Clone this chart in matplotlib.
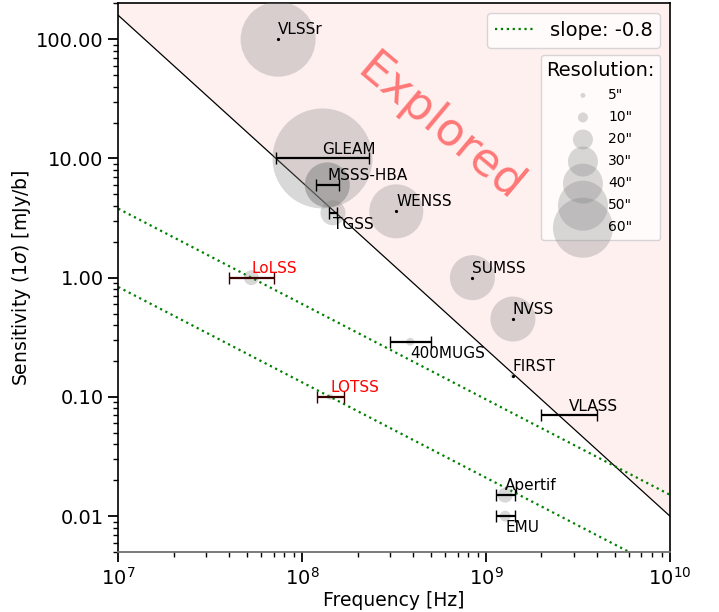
import numpy as np
import matplotlib
matplotlib.use("Agg")
import matplotlib.pyplot as plt
from matplotlib.ticker import FormatStrFormatter, NullFormatter

# ---------------- data ----------------
names = ['VLSSr', 'GLEAM', 'MSSS-HBA', 'TGSS', 'WENSS', 'SUMSS', 'NVSS', 'FIRST',
         'VLASS', '400MUGS', 'LoLSS', 'LOTSS', 'Apertif', 'EMU']
freq = [74e6, 129e6, 137e6, 147e6, 325e6, 843e6, 1.4e9, 1.4e9,
        2.83e9, 387e6, 52.9e6, 142e6, 1.27e9, 1.27e9]            # Hz
sens = [100, 10, 6.0, 3.5, 3.6, 1.0, 0.45, 0.15,
        0.07, 0.29, 1.0, 0.1, 0.015, 0.01]                        # mJy/b
resolution = [75, 100, 45, 25, 54, 45, 45, 5,
              2.5, 8, 15, 6, 15, 11]                              # arcsec
band_lo = [np.nan, 72e6, 119e6, 140e6, np.nan, np.nan, np.nan, np.nan,
           2e9, 300e6, 40e6, 120e6, 1.13e9, 1.13e9]
band_hi = [np.nan, 231e6, 158e6, 154.5e6, np.nan, np.nan, np.nan, np.nan,
           4e9, 500e6, 70e6, 168e6, 1.43e9, 1.44e9]
label_below = ['TGSS', '400MUGS', 'EMU']
highlight = ['LoLSS', 'LOTSS']

legend_res = [5, 10, 20, 30, 40, 50, 60]

explored_slope = -1.4
explored_ref = (1e10, 0.01)
line_slope = -0.8

# ---------------- figure ----------------
W, H, DPI = 7.19, 6.12, 100
fig = plt.figure(figsize=(W, H), dpi=DPI)
ax = fig.add_axes([0.1645, 0.098, 0.7673, 0.8966])
ax.set_xscale('log')
ax.set_yscale('log')
ax.set_xlim(1e7, 1e10)
ax.set_ylim(0.005, 200)

def msize(res):
    # marker diameter in pixels equals resolution in arcsec
    d_pt = res * 72.0 / DPI
    return d_pt ** 2

xx = np.logspace(7, 10, 200)
# explored region
expl = explored_ref[1] * (xx / explored_ref[0]) ** explored_slope
ax.fill_between(xx, expl, 1e4, color='red', alpha=0.06, lw=0, zorder=0)
ax.plot(xx, expl, color='black', lw=0.9, zorder=2)

# slope lines through LoLSS and LOTSS
for i, nm in enumerate(['LoLSS', 'LOTSS']):
    k = names.index(nm)
    yy = sens[k] * (xx / freq[k]) ** line_slope
    ax.plot(xx, yy, color='green', ls=':', lw=1.6, zorder=2,
            label='slope: -0.8' if i == 0 else None)

# survey circles
alphas = [0.5 if n == 'MSSS-HBA' else 0.3 for n in names]
for i, n in enumerate(names):
    ax.scatter(freq[i], sens[i], s=msize(resolution[i]), color='gray',
               alpha=alphas[i], edgecolors='none', zorder=3)

# error bars / centres / labels
for i, n in enumerate(names):
    col = '#3a0000' if n in highlight else 'black'
    if not np.isnan(band_lo[i]):
        xerr = [[freq[i] - band_lo[i]], [band_hi[i] - freq[i]]]
        ax.errorbar(freq[i], sens[i], xerr=xerr, fmt='none', ecolor=col,
                    elinewidth=1.6, capsize=4.5, capthick=1.0, zorder=4)
    else:
        ax.plot(freq[i], sens[i], 'o', color='black', ms=1.3, zorder=4)
    tcol = 'red' if n in highlight else 'black'
    if n in label_below:
        ax.annotate(n, (freq[i], sens[i]), xytext=(0, -3),
                    textcoords='offset points', ha='left', va='top',
                    fontsize=11, color=tcol, zorder=5)
    else:
        ax.annotate(n, (freq[i], sens[i]), xytext=(0, 3.5),
                    textcoords='offset points', ha='left', va='baseline',
                    fontsize=11, color=tcol, zorder=5)

# Explored label
ax.text(5.6e8, 18, 'Explored', color='red', alpha=0.5, fontsize=33,
        rotation=-40, rotation_mode='anchor', ha='center', va='center',
        zorder=1)

# axes styling
ax.set_xlabel('Frequency [Hz]', fontsize=13.5, labelpad=2)
ax.set_ylabel(r'Sensitivity (1$\sigma$) [mJy/b]', fontsize=13.5, labelpad=2)
ax.yaxis.set_major_formatter(FormatStrFormatter('%.2f'))
ax.yaxis.set_minor_formatter(NullFormatter())
ax.xaxis.set_minor_formatter(NullFormatter())
ax.tick_params(which='major', labelsize=14, length=7, width=1.3)
ax.tick_params(which='minor', length=3.5, width=1.0)
for s in ['left', 'top', 'right']:
    ax.spines[s].set_color('black')
    ax.spines[s].set_linewidth(1.2)
ax.spines['bottom'].set_color('#707070')
ax.spines['bottom'].set_linewidth(1.3)

# legends
leg1 = ax.legend(loc='upper right', fontsize=14)
ax.add_artist(leg1)
handles = [ax.scatter([], [], s=msize(r), color='gray', alpha=0.3,
                      edgecolors='none') for r in legend_res]
labels = ['%d"' % r for r in legend_res]
leg2 = ax.legend(handles, labels, title='Resolution:', fontsize=10,
                 title_fontsize=14, loc='upper right',
                 bbox_to_anchor=(0.9825, 0.905), borderaxespad=0,
                 labelspacing=0.58)

fig.savefig('out.png', dpi=DPI)
